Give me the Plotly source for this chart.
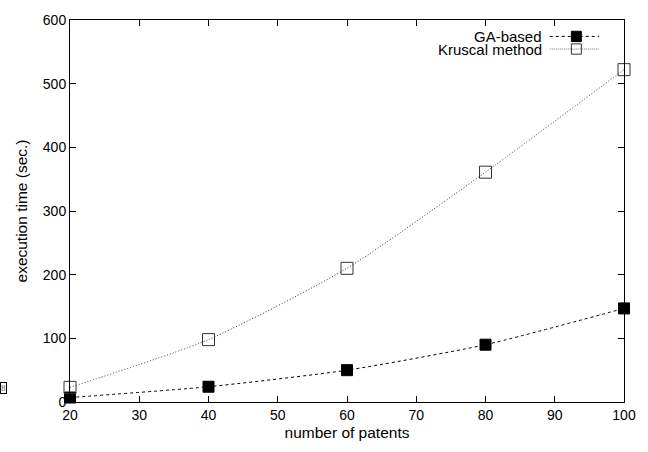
import plotly.graph_objects as go

patents = [20, 40, 60, 80, 100]
ga_based = [7, 24, 50, 90, 147]
kruscal = [23, 98, 210, 361, 522]
x_ticks = [20, 30, 40, 50, 60, 70, 80, 90, 100]
y_ticks = [0, 100, 200, 300, 400, 500, 600]
series_names = ["GA-based", "Kruscal method"]

family = "Liberation Sans, Arial, sans-serif"
tick_font = dict(family=family, size=14, color="black")
title_font = dict(family=family, size=15.5, color="black")
legend_font = dict(family=family, size=15, color="black")

fig = go.Figure()
fig.add_trace(go.Scatter(
    x=patents, y=ga_based, mode="lines+markers", name=series_names[0],
    line=dict(color="black", width=1, dash="3px,3px", shape="spline", smoothing=0.6),
    marker=dict(symbol="square", size=11, color="black", line=dict(color="black", width=1)),
    showlegend=False, cliponaxis=False,
))
fig.add_trace(go.Scatter(
    x=patents, y=kruscal, mode="lines+markers", name=series_names[1],
    line=dict(color="#333333", width=1, dash="1px,2px", shape="spline", smoothing=0.6),
    marker=dict(symbol="square-open", size=12, color="#333333", line=dict(width=1)),
    showlegend=False, cliponaxis=False,
))

# custom legend (text left of sample, as in gnuplot)
leg_y = [0.957, 0.924]
for i, (name, ly) in enumerate(zip(series_names, leg_y)):
    fig.add_annotation(xref="paper", yref="paper", x=0.855, y=ly, text=name,
                       showarrow=False, xanchor="right", yanchor="middle", font=legend_font)
    fig.add_shape(type="line", xref="paper", yref="paper", x0=0.866, x1=0.955, y0=ly, y1=ly,
                  line=dict(color="black" if i == 0 else "#777777", width=1,
                            dash="3px,3px" if i == 0 else "1px,1px"))
    fig.add_shape(type="rect", xref="paper", yref="paper", x0=0.905, x1=0.923,
                  y0=ly - 0.0135, y1=ly + 0.0135,
                  fillcolor="black" if i == 0 else "rgba(255,255,255,0)",
                  line=dict(color="black" if i == 0 else "#333333", width=1))

# small clipped artifact box at the left edge
fig.add_annotation(xref="paper", yref="paper", x=-0.127, y=0.036, text="8",
                   showarrow=False, xanchor="left", yanchor="middle",
                   font=dict(family="Liberation Serif", size=9, color="#666666"),
                   bordercolor="black", borderwidth=1, borderpad=0)

fig.update_layout(
    width=648, height=452,
    margin=dict(l=70, r=20, t=16, b=50),
    paper_bgcolor="white", plot_bgcolor="white",
    font=tick_font,
)
fig.update_xaxes(
    range=[20, 100], tickvals=x_ticks, ticks="inside", ticklen=6, tickcolor="black",
    showline=True, linecolor="black", linewidth=1, mirror="ticks", showgrid=False,
    zeroline=False, title=dict(text="number of patents", standoff=5, font=title_font),
    tickfont=tick_font,
)
fig.update_yaxes(
    range=[0, 600], tickvals=y_ticks, ticks="inside", ticklen=6, tickcolor="black",
    showline=True, linecolor="black", linewidth=1, mirror="ticks", showgrid=False,
    zeroline=False, title=dict(text="execution time (sec.)", standoff=11, font=title_font),
    tickfont=tick_font,
)

fig.write_html("out.html", config={"displayModeBar": False},
               post_script="document.body.style.margin='0';")
